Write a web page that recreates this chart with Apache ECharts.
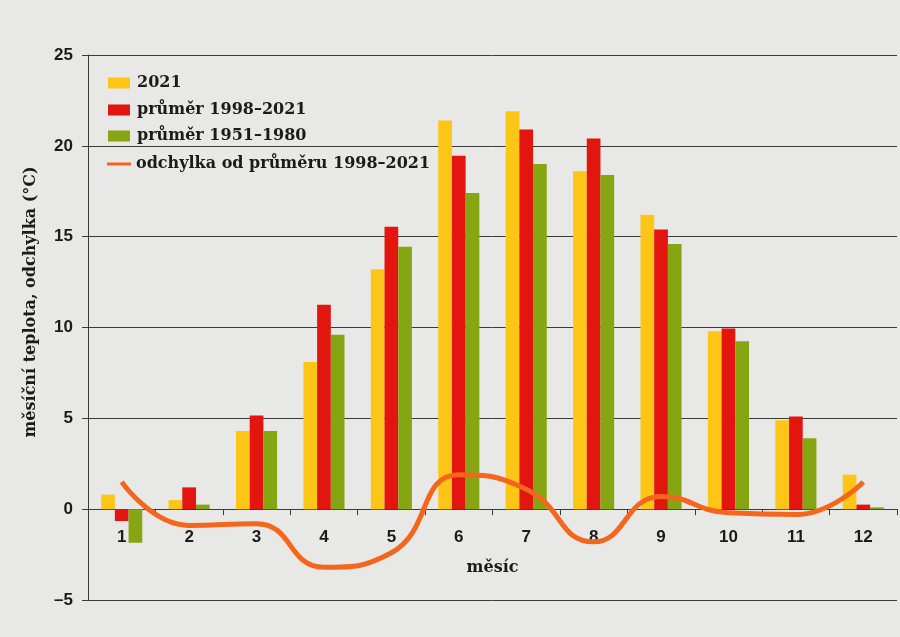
<!DOCTYPE html>
<html>
<head>
<meta charset="utf-8">
<script src="https://cdn.jsdelivr.net/npm/echarts@6/dist/echarts.min.js"></script>
<style>
  html, body { margin: 0; padding: 0; background: #e8e8e6; }
  #chart { width: 900px; height: 637px; }
</style>
</head>
<body>
<div id="chart"></div>
<script>
// Monthly mean temperatures (°C)
const months = ['1', '2', '3', '4', '5', '6', '7', '8', '9', '10', '11', '12'];
const temp2021 = [0.8, 0.5, 4.3, 8.1, 13.2, 21.4, 21.9, 18.6, 16.2, 9.8, 4.9, 1.9];
const avg1998_2021 = [-0.65, 1.2, 5.15, 11.25, 15.55, 19.45, 20.9, 20.4, 15.4, 9.95, 5.1, 0.25];
const avg1951_1980 = [-1.85, 0.25, 4.3, 9.6, 14.45, 17.4, 19.0, 18.4, 14.6, 9.25, 3.9, 0.1];
// Deviation of 2021 from the 1998–2021 mean
const deviation = [1.5, -0.9, -0.8, -3.2, -2.4, 1.9, 1.1, -1.8, 0.7, -0.2, -0.3, 1.5];

const yTicks = { min: -5, max: 25, step: 5 };

const names = ['2021', 'průměr 1998–2021', 'průměr 1951–1980', 'odchylka od průměru 1998–2021'];
const colors = ['#fdc516', '#e3150f', '#86a513', '#f4661c'];

const ink = '#1b1b1b';
const sansBold = { fontFamily: 'Liberation Sans, Arial, sans-serif', fontWeight: 'bold', fontSize: 17, color: ink };
const serifBold = { fontFamily: 'DejaVu Serif, serif', fontWeight: 'bold', fontSize: 16, color: ink };

// one legend block per row so each row sits on its own line
const legendRows = [
  { top: 70, icon: 'rect', w: 22, h: 11 },
  { top: 97, icon: 'rect', w: 22, h: 11 },
  { top: 123, icon: 'rect', w: 22, h: 11 },
  { top: 151, icon: 'rect', w: 24, h: 3 }
];

const chart = echarts.init(document.getElementById('chart'));
chart.setOption({
  backgroundColor: '#e8e8e6',
  animation: false,
  grid: { left: 88, right: 3, top: 55, bottom: 37, containLabel: false, outerBoundsMode: 'none' },
  legend: names.map((n, i) => ({
    data: [{ name: n, icon: legendRows[i].icon }],
    left: i === 3 ? 102 : 103,
    top: legendRows[i].top,
    itemWidth: legendRows[i].w,
    itemHeight: legendRows[i].h,
    textStyle: Object.assign({}, serifBold, { padding: [0, 0, 0, i === 3 ? 0 : 2] })
  })),
  xAxis: {
    type: 'category',
    data: months,
    name: 'měsíc',
    nameLocation: 'middle',
    nameGap: -40,
    nameTextStyle: serifBold,
    axisLine: { onZero: true, lineStyle: { color: '#3a3a3a', width: 1 } },
    axisTick: { show: true, length: 6, lineStyle: { color: '#3a3a3a' } },
    axisLabel: Object.assign({ margin: -71 }, sansBold),
    splitLine: { show: false }
  },
  yAxis: {
    type: 'value',
    min: yTicks.min,
    max: yTicks.max,
    interval: yTicks.step,
    axisLine: { show: true, lineStyle: { color: '#3a3a3a', width: 1 } },
    axisTick: { show: true, length: 6, lineStyle: { color: '#3a3a3a' } },
    axisLabel: Object.assign({
      margin: 15,
      formatter: v => String(v).replace('-', '–')
    }, sansBold),
    splitLine: { show: true, lineStyle: { color: '#3a3a3a', width: 1 } }
  },
  graphic: [{
    type: 'text',
    x: 31,
    y: 302,
    rotation: Math.PI / 2,
    style: {
      text: 'měsíční teplota, odchylka (°C)',
      fill: ink,
      font: 'bold 16px "DejaVu Serif", serif',
      textAlign: 'center',
      textVerticalAlign: 'middle'
    }
  }],
  series: [
    { name: names[0], type: 'bar', data: temp2021, barWidth: 13.7, barGap: '0%', itemStyle: { color: colors[0] } },
    { name: names[1], type: 'bar', data: avg1998_2021, barWidth: 13.7, barGap: '0%', itemStyle: { color: colors[1] } },
    { name: names[2], type: 'bar', data: avg1951_1980, barWidth: 13.7, barGap: '0%', itemStyle: { color: colors[2] } },
    {
      name: names[3], type: 'line', data: deviation, smooth: 0.5,
      symbol: 'none', z: 5,
      lineStyle: { color: colors[3], width: 5 },
      itemStyle: { color: colors[3] }
    }
  ]
});
</script>
</body>
</html>
